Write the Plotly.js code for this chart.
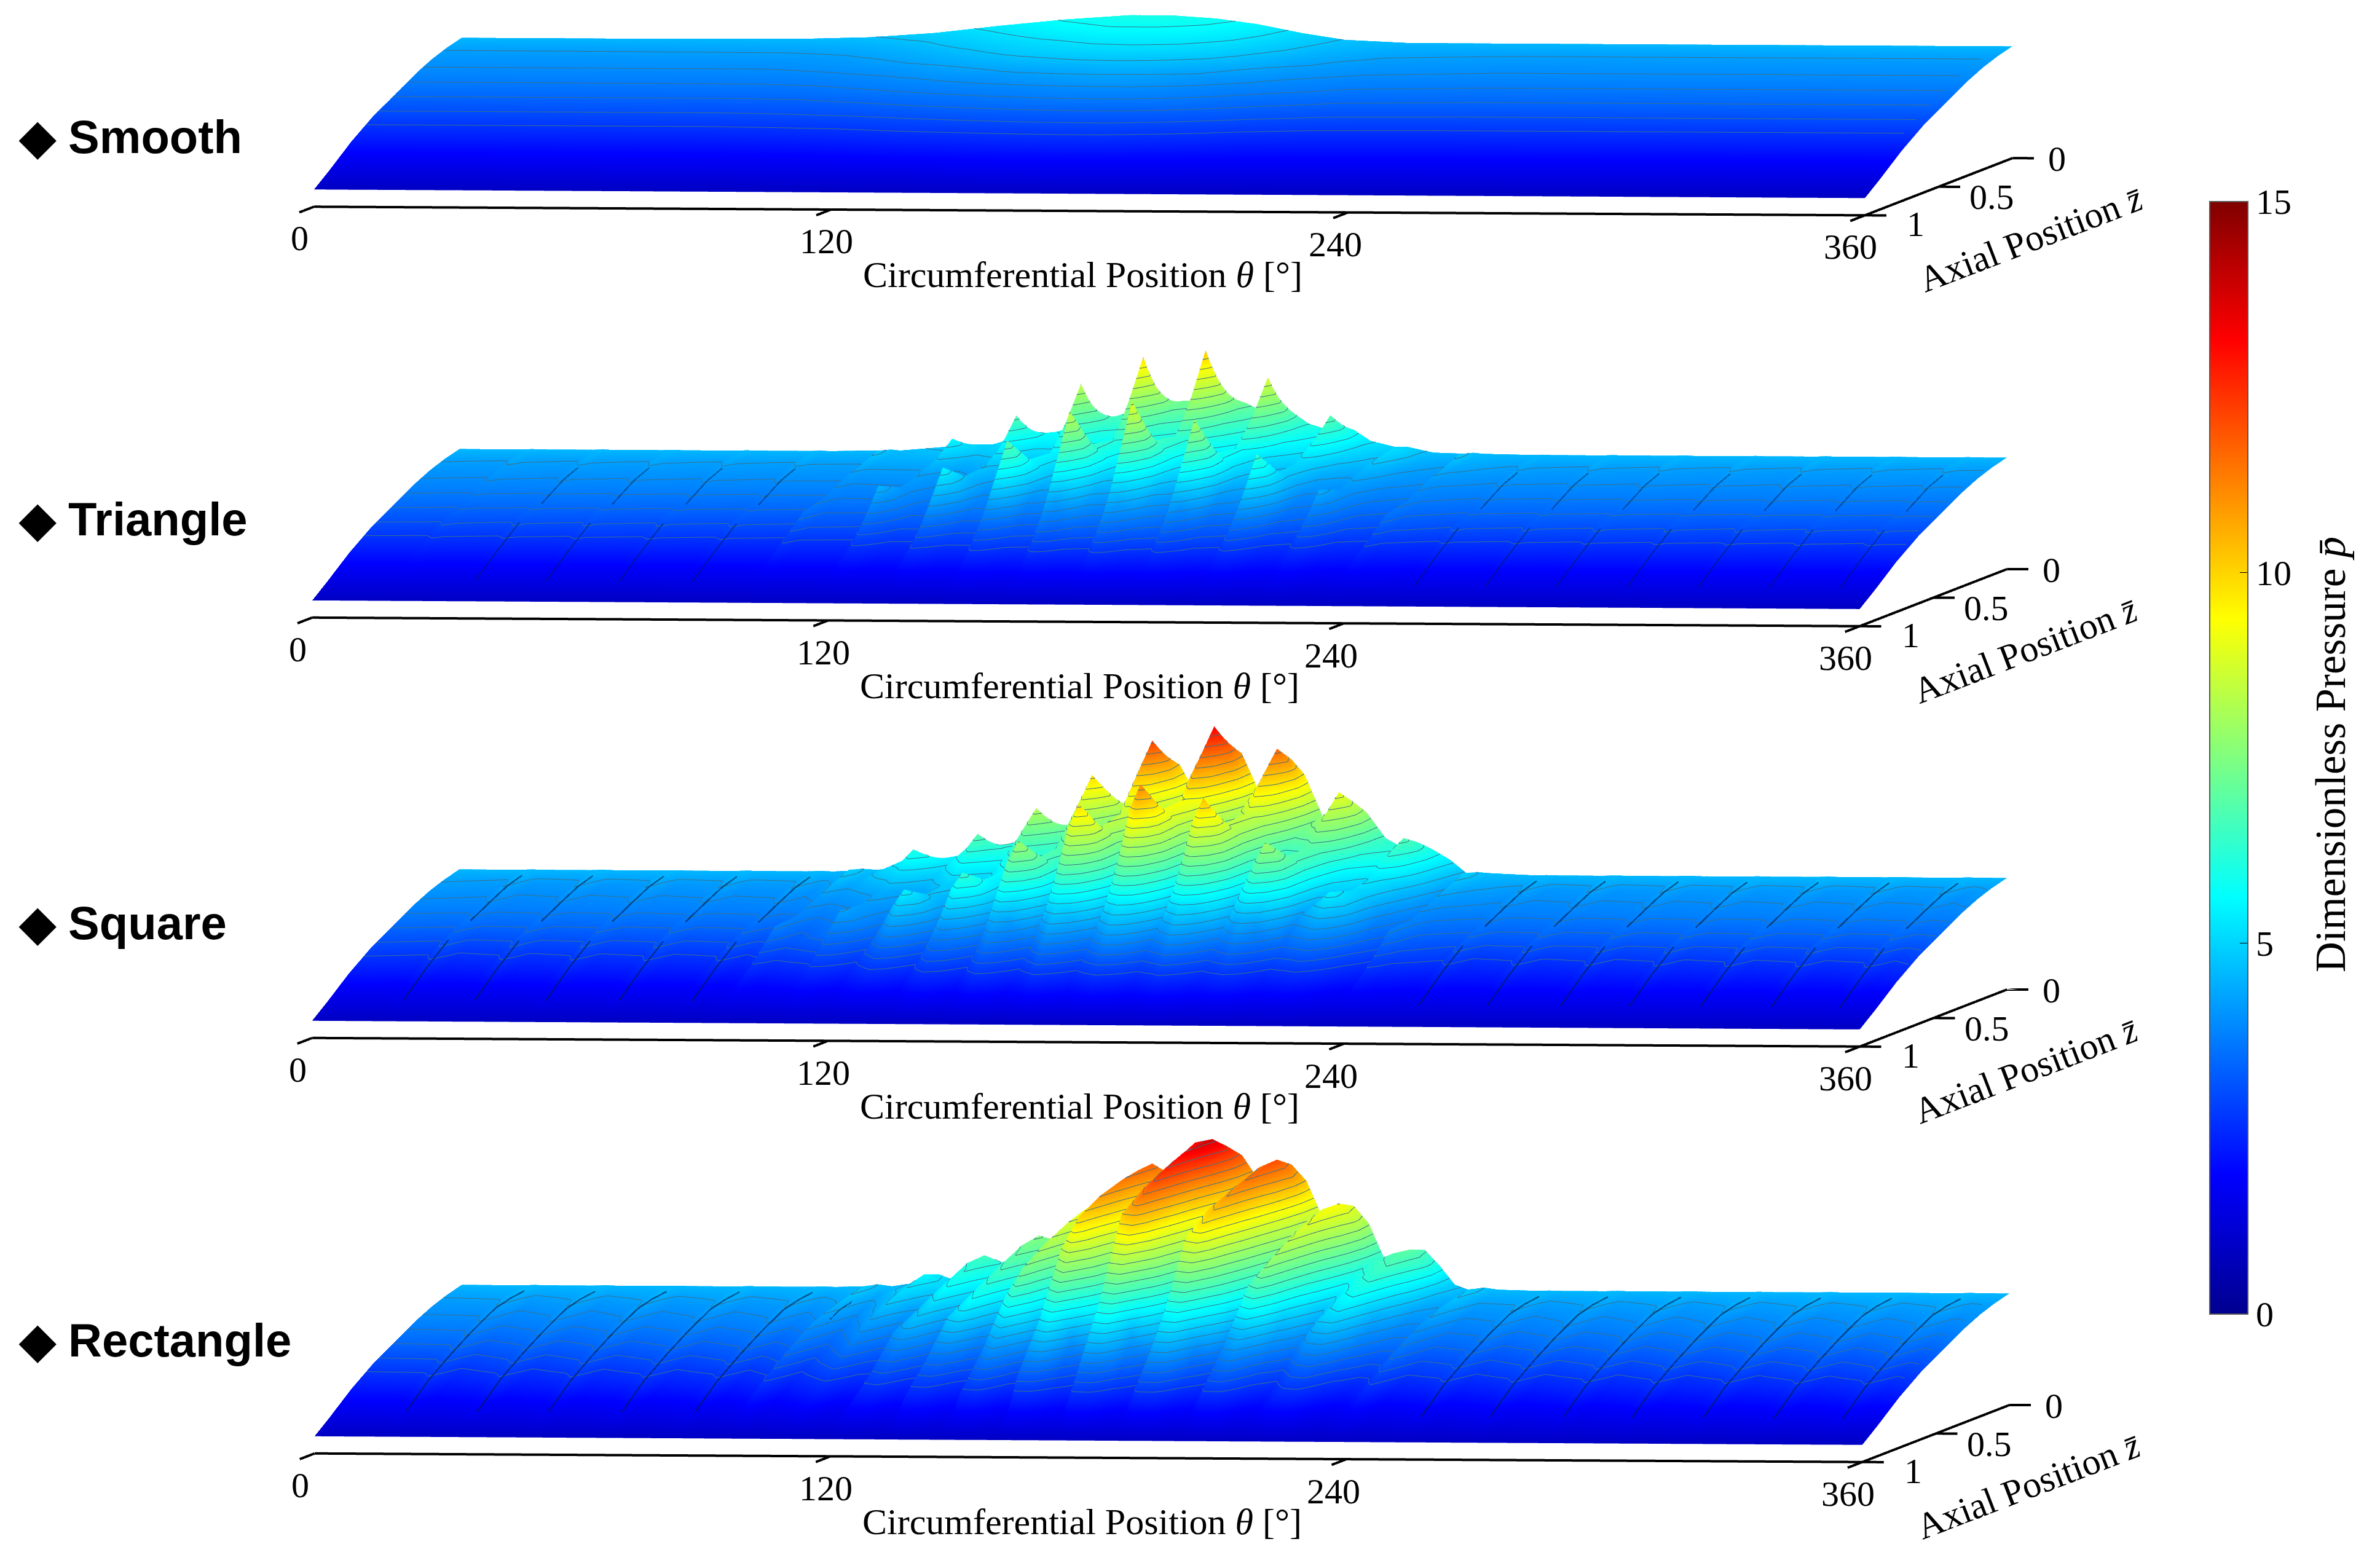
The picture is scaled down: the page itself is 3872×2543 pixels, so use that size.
<!DOCTYPE html>
<html><head><meta charset="utf-8">
<script src="https://cdn.plot.ly/plotly-3.0.1.min.js"></script>
<style>html,body{margin:0;padding:0;background:#fff;overflow:hidden}#g{width:3872px;height:2543px}</style>
</head><body><div id="g"></div>
<script>
// ---- values ----
const axialStations = [0,0.1,0.2,0.3,0.45,0.6,0.75,0.9,1];
const thetaTicks = [0,120,240,360];
const axialTicks = [0,0.5,1];
const colorTicks = [0,5,10,15];
const panelNames = ['Smooth','Triangle','Square','Rectangle'];
// pressure → drawn height in the picture (the drawing is not linear in the colour value)
const pressureStops = [0,0.9,2.2,2.9,3.45,3.9,4.1,4.3,4.6,6,8,10,12.5,13,15];
const heightStops  = [0,0.7,2.05,2.75,3.3,3.85,4.15,4.38,4.55,5.62,7.25,8.85,10.37,10.75,11.1];

const flat = [4.6,4.3,4.1,3.9,3.45,2.9,2.2,1.4,0.9];

// every column below = pressure at the axialStations for one theta
const thetaSmooth = [0,40,80,95,110,125,140,155,165,175,185,195,205,220,250,300,360];
const pressureSmooth = [
 flat,flat,
 [4.65,4.35,4.1,3.9,3.45,2.9,2.2,1.4,0.9],
 [4.75,4.45,4.2,4.0,3.5,2.95,2.25,1.4,0.9],
 [5.0,4.7,4.45,4.2,3.7,3.05,2.3,1.45,0.9],
 [5.4,5.1,4.8,4.5,3.95,3.25,2.45,1.5,0.9],
 [5.75,5.5,5.15,4.85,4.2,3.45,2.55,1.55,0.9],
 [6.0,5.75,5.4,5.1,4.4,3.6,2.65,1.65,0.9],
 [6.0,5.75,5.45,5.15,4.5,3.65,2.7,1.65,0.9],
 [5.85,5.65,5.4,5.1,4.45,3.65,2.7,1.65,0.9],
 [5.55,5.4,5.2,4.95,4.3,3.55,2.6,1.6,0.9],
 [5.1,5.0,4.85,4.6,4.05,3.35,2.5,1.55,0.9],
 [4.75,4.65,4.5,4.3,3.8,3.15,2.35,1.5,0.9],
 [4.6,4.4,4.2,4.0,3.55,2.95,2.25,1.4,0.9],
 flat,flat,flat];

// Triangle
const triLow = [4.6,4.25,4.05,3.85,3.4,2.85,2.15,1.4,0.9];
const triTop = [4.62,4.5,4.2,4.0,3.5,3.1,2.3,1.45,0.9];
const triOff = [4.6,4.3,4.15,3.9,3.45,2.95,2.2,1.4,0.9];
const triLow2 = [4.65,4.3,4.1,3.9,3.4,2.85,2.2,1.4,0.9];
const triTop2 = [4.7,4.9,4.5,4.2,3.8,3.6,2.6,1.5,0.9];
const triOff2 = [4.65,4.5,4.3,4.0,3.6,3.1,2.3,1.45,0.9];
const thetaTriangle = [0,14.5,17,19,31,33.5,35.5,47.5,50,52,64.5,67,69,81.5,84,86,98,100.5,102.5,
 115,118,120,124, 130,133,135,139, 145,148,150,154, 159.5,162.5,164.5,168.5, 174,177,179,183,
 188.5,191.5,193.5,197.5, 203,206,208,212, 217.5,220.5,222.5,226.5,
 233.5,236,238,249.5,252,254,266,268.5,270.5,282.5,285,287,299,301.5,303.5,315.5,318,320,332,334.5,336.5,348.5,351,353,360];
const pressureTriangle = [flat,
 triLow,triTop,triOff, triLow,triTop,triOff, triLow,triTop,triOff, triLow,triTop,triOff, triLow,triTop,triOff, triLow2,triTop2,triOff2,
 [4.9,4.6,4.3,4.1,3.6,3.0,2.3,1.4,0.9],[5.0,5.6,4.7,4.3,4.1,4.6,2.9,1.6,0.9],[5.0,5.2,4.6,4.2,4.0,4.2,2.8,1.6,0.9],[5.0,4.8,4.4,4.1,3.7,3.2,2.4,1.5,0.9],
 [5.4,5.0,4.6,4.3,3.8,3.2,2.4,1.5,0.9],[5.6,6.8,5.6,4.8,4.7,5.6,3.4,1.7,0.9],[5.6,6.2,5.4,4.7,4.5,5.0,3.2,1.7,0.9],[5.7,5.5,5.0,4.5,4.1,3.6,2.7,1.6,0.9],
 [6.1,5.5,5.0,4.6,4.2,3.6,2.7,1.6,0.9],[6.3,8.4,6.8,5.5,5.6,7.0,4.0,1.9,0.9],[6.3,7.5,6.4,5.3,5.3,6.2,3.8,1.9,0.9],[6.6,6.4,5.8,5.1,4.7,4.2,3.0,1.7,0.9],
 [7.0,6.2,5.6,5.0,4.6,4.0,2.9,1.7,0.9],[7.2,9.8,7.8,6.2,6.4,8.5,4.6,2.0,0.9],[7.2,8.6,7.4,6.0,6.0,7.4,4.3,2.0,0.9],[7.3,7.0,6.4,5.6,5.2,4.6,3.3,1.8,0.9],
 [7.3,6.6,5.9,5.2,4.8,4.2,3.1,1.8,0.9],[7.5,10.2,8.0,6.4,6.6,9.0,4.8,2.1,0.9],[7.5,9.0,7.6,6.2,6.2,7.8,4.5,2.1,0.9],[7.2,6.9,6.4,5.7,5.3,4.7,3.4,1.8,0.9],
 [6.6,6.2,5.7,5.2,4.8,4.2,3.1,1.8,0.9],[6.8,8.8,7.2,5.8,6.0,8.1,4.5,2.0,0.9],[6.8,7.8,6.8,5.6,5.6,7.0,4.1,1.9,0.9],[6.2,6.0,5.6,5.1,4.7,4.2,3.0,1.7,0.9],
 [5.8,5.5,5.2,4.8,4.3,3.8,2.8,1.6,0.9],[6.0,6.9,6.0,5.1,5.0,6.4,3.7,1.8,0.9],[5.9,6.3,5.7,5.0,4.8,5.6,3.4,1.8,0.9],[5.3,5.2,4.9,4.5,4.0,3.5,2.6,1.5,0.9],
 [5.0,4.8,4.6,4.3,3.8,3.2,2.4,1.5,0.9],[5.0,5.2,4.9,4.5,4.1,4.5,2.9,1.6,0.9],[4.9,5.0,4.7,4.4,4.0,4.1,2.8,1.6,0.9],[4.7,4.5,4.3,4.1,3.6,3.0,2.3,1.4,0.9],
 triLow2,triTop2,triOff2, triLow,triTop,triOff, triLow,triTop,triOff, triLow,triTop,triOff, triLow,triTop,triOff, triLow,triTop,triOff, triLow,triTop,triOff, triLow,triTop,triOff, flat];
const slashTriangle = [33.5,50,67,84,100.5,252,268.5,285,301.5,318,334.5,351];

// Square
const sqLow = [4.6,4.2,4.0,3.85,3.35,2.75,2.1,1.35,0.9];
const sqTop = [4.62,4.55,4.25,4.0,3.6,3.2,2.4,1.5,0.9];
const sqOff = [4.6,4.1,3.95,3.8,3.3,2.6,2.05,1.35,0.9];
const sqLow2 = [4.65,4.4,4.15,3.9,3.4,2.85,2.15,1.4,0.9];
const sqTop2 = [4.75,5.0,4.6,4.2,3.85,3.8,2.7,1.6,0.9];
const sqOff2 = [4.7,4.5,4.25,4.0,3.5,3.1,2.3,1.45,0.9];
const thetaSquare = [0,14,17,20,30.5,33.5,36.5,47,50,53,64,67,70,81,84,87,91.5,94,97,
 106.5,109,112,116.5, 121.5,124,127,131.5, 135,137.6,140.6,145, 148,150.6,153.6,158, 162,164.6,167.6,172,
 176.5,179,182,186.5, 191,193.6,196.6,201, 205.5,208,211,215.5, 220.5,223,226,230.5,
 234.5,237,240,250,253,256,266,269,272,283,286,289,299,302,305,315.5,318.5,321.5,332,335,338,348,351,354,360];
const pressureSquare = [flat,
 sqLow,sqTop,sqOff, sqLow,sqTop,sqOff, sqLow,sqTop,sqOff, sqLow,sqTop,sqOff, sqLow,sqTop,sqOff, sqLow2,sqTop2,sqOff2,
 [4.9,5.5,4.8,4.3,3.9,3.6,2.6,1.6,0.9],[5.3,6.1,5.1,4.5,4.2,4.3,3.0,1.8,0.9],[5.3,5.8,5.0,4.4,4.1,4.0,2.9,1.7,0.9],[5.5,5.2,4.7,4.2,3.8,3.2,2.4,1.5,0.9],
 [5.7,6.2,5.4,4.7,4.4,4.7,3.1,1.8,0.9],[6.0,6.9,5.8,5.0,4.8,5.5,3.5,2.0,0.9],[6.0,6.4,5.6,4.9,4.6,5.0,3.3,1.9,0.9],[6.4,6.0,5.4,4.7,4.2,3.6,2.6,1.6,0.9],
 [6.7,7.3,6.3,5.3,5.1,5.6,3.5,2.0,0.9],[7.0,8.2,6.9,5.7,5.6,6.4,4.0,2.3,0.9],[7.0,7.6,6.6,5.5,5.3,5.8,3.8,2.2,0.9],[7.2,6.9,6.2,5.3,4.7,4.0,2.9,1.7,0.9],
 [7.6,8.7,7.5,6.2,6.0,7.0,4.0,2.1,0.9],[8.2,9.9,8.4,6.9,6.8,8.0,4.6,2.6,0.9],[8.2,9.2,8.0,6.6,6.4,7.2,4.3,2.4,0.9],[8.0,7.7,7.0,5.9,5.2,4.5,3.2,1.8,0.9],
 [8.6,10.5,9.0,7.5,7.0,8.6,4.4,2.2,0.9],[10.2,12.2,10.4,8.6,8.3,9.9,5.2,2.8,0.9],[10.2,11.2,9.9,8.2,7.8,9.0,4.8,2.5,0.9],[8.4,8.1,7.5,6.5,5.7,4.9,3.5,1.9,0.9],
 [9.6,11.5,10.0,8.4,7.9,9.7,4.8,2.4,0.9],[11.5,13.2,11.4,9.3,9.2,11.2,5.6,2.8,0.9],[11.0,12.0,10.6,9.0,8.6,10.0,5.4,2.6,0.9],[8.6,8.4,7.8,6.8,5.9,5.0,3.6,2.0,0.9],
 [9.2,10.2,9.0,7.7,7.4,9.0,4.6,2.3,0.9],[10.6,11.7,10.2,8.6,8.5,10.3,5.4,2.8,0.9],[9.7,10.7,9.6,8.2,8.0,9.2,5.0,2.5,0.9],[7.5,7.4,7.0,6.3,5.6,4.8,3.4,1.9,0.9],
 [7.4,8.1,7.4,6.4,6.2,7.0,4.2,2.2,0.9],[8.3,9.1,8.1,6.9,6.9,8.0,4.6,2.5,0.9],[7.8,8.3,7.6,6.6,6.5,7.2,4.2,2.3,0.9],[6.5,6.4,6.1,5.5,4.8,4.1,3.0,1.7,0.9],
 [5.9,6.2,5.8,5.1,4.8,5.0,3.3,1.9,0.9],[6.3,6.8,6.2,5.4,5.1,5.5,3.6,2.0,0.9],[6.0,6.3,5.9,5.2,4.9,5.0,3.3,1.8,0.9],[5.4,5.2,5.0,4.6,4.0,3.4,2.5,1.5,0.9],
 sqLow2,sqTop2,sqOff2, sqLow,sqTop,sqOff, sqLow,sqTop,sqOff, sqLow,sqTop,sqOff, sqLow,sqTop,sqOff, sqLow,sqTop,sqOff, sqLow,sqTop,sqOff, sqLow,sqTop,sqOff, flat];
const slashSquare = [17,33.5,50,67,84,94,253,269,286,302,318.5,335,351];

// Rectangle
const reMid = [4.6,4.4,4.15,3.95,3.5,2.95,2.25,1.45,0.9];
const reTop = [4.62,4.55,4.4,4.2,3.8,3.25,2.55,1.65,0.9];
const reOff = [4.6,4.2,3.95,3.7,3.2,2.6,2.0,1.3,0.9];
const reMid2 = [4.65,4.5,4.25,4.05,3.55,3.0,2.3,1.5,0.9];
const reTop2 = [4.75,4.95,4.75,4.5,4.1,3.6,2.85,1.9,0.9];
const reOff2 = [4.65,4.35,4.05,3.8,3.3,2.7,2.05,1.35,0.9];
const thetaRectangle = [0,14,17,20,30.5,33.5,36.5,47,50,53,64,67,70,81,84,87,94,97,100,
 107,111,114.5,118, 121,125,128.5,132, 133.7,137.7,141.2,144.7, 147,151,154.5,158, 160,164,167.5,171,
 174,178,181.5,185, 189,193,196.5,200, 203.5,207.5,211,214.5, 220,224,227.5,231,
 234,238,241,250,253,256,266,269,272,283,286,289,299,302,305,315.5,318.5,321.5,332,335,338,348,351,354,360];
const pressureRectangle = [flat,
 reMid,reTop,reOff, reMid,reTop,reOff, reMid,reTop,reOff, reMid,reTop,reOff, reMid,reTop,reOff, reMid2,reTop2,reOff2,
 [4.9,5.0,4.7,4.4,3.9,3.3,2.5,1.6,0.9],[5.3,5.6,5.3,5.0,4.4,3.7,2.8,1.9,0.9],[5.0,5.2,4.8,4.3,3.6,2.9,2.2,1.4,0.9],[5.2,4.9,4.5,4.1,3.5,2.8,2.1,1.4,0.9],
 [5.8,6.2,5.8,5.4,4.7,4.1,3.0,2.0,0.9],[6.0,6.6,6.3,6.0,5.2,4.6,3.3,2.1,0.9],[5.8,6.2,5.7,5.1,4.2,3.4,2.5,1.6,0.9],[6.0,5.7,5.2,4.7,3.9,3.1,2.3,1.5,0.9],
 [6.7,7.1,6.7,6.3,5.6,4.9,3.5,2.3,0.9],[7.1,7.6,7.3,6.9,6.2,5.5,3.7,2.4,0.9],[6.9,7.2,6.6,5.9,4.9,4.0,2.8,1.8,0.9],[7.0,6.8,6.2,5.5,4.5,3.6,2.5,1.6,0.9],
 [8.0,8.7,8.3,7.9,7.0,6.0,3.9,2.6,0.9],[8.5,9.3,9.1,8.8,8.2,7.4,4.8,2.9,0.9],[8.4,8.9,8.2,7.3,6.1,4.9,3.0,1.9,0.9],[8.8,8.5,7.7,6.7,5.4,4.2,2.8,1.7,0.9],
 [9.8,10.7,10.4,10.0,9.4,8.4,5.2,3.2,0.9],[10.7,11.7,11.6,11.4,10.9,10.0,6.4,3.3,0.9],[10.5,11.0,10.6,10.0,9.0,7.6,4.2,2.1,0.9],[10.1,9.9,9.1,8.0,6.4,4.9,3.0,1.8,0.9],
 [11.8,13.0,12.6,12.2,11.4,10.2,6.2,3.4,0.9],[12.5,13.8,13.6,13.2,12.4,11.2,7.0,3.7,0.9],[11.9,12.6,12.0,11.0,9.8,8.2,4.4,2.2,0.9],[10.4,10.2,9.6,8.6,6.8,5.2,3.2,1.8,0.9],
 [11.0,11.5,11.1,10.7,10.0,9.0,5.6,3.3,0.9],[11.3,12.0,11.8,11.5,10.8,9.8,6.2,3.4,0.9],[10.2,10.9,10.4,9.6,8.4,6.8,3.9,2.0,0.9],[8.4,8.3,7.8,7.0,5.7,4.5,2.8,1.7,0.9],
 [8.6,9.0,8.7,8.3,7.5,6.6,4.2,2.8,0.9],[8.9,9.3,9.2,8.9,8.4,7.6,4.9,3.0,0.9],[8.0,8.6,7.9,7.0,5.9,4.7,3.0,1.9,0.9],[6.3,6.3,6.0,5.4,4.5,3.6,2.5,1.6,0.9],
 [6.5,6.8,6.5,6.2,5.6,4.9,3.4,2.3,0.9],[6.7,7.0,6.8,6.5,5.9,5.2,3.6,2.4,0.9],[5.9,6.4,5.9,5.2,4.4,3.6,2.5,1.6,0.9],[4.9,4.8,4.5,4.2,3.6,2.9,2.2,1.4,0.9],
 reMid2,reTop2,reOff2, reMid,reTop,reOff, reMid,reTop,reOff, reMid,reTop,reOff, reMid,reTop,reOff, reMid,reTop,reOff, reMid,reTop,reOff, reMid,reTop,reOff, flat];
const slashRectangle = [17,33.5,50,67,84,97,253,269,286,302,318.5,335,351];

// ---- drawing ----
const W=3872,H=2543;
const panels=[
 {theta:thetaSmooth,p:pressureSmooth,cx:512,cy:336,zmax:5.8,slash:[],top:flat,rows:[]},
 {theta:thetaTriangle,p:pressureTriangle,cx:506,cy:1005,zmax:9.3,slash:slashTriangle,top:triTop,rows:[[2,3,4],[5,6,7]],op:0.4},
 {theta:thetaSquare,p:pressureSquare,cx:506,cy:1689,zmax:11.2,slash:slashSquare,top:sqTop,rows:[[1,2,3,4],[5,6,7]],op:0.55},
 {theta:thetaRectangle,p:pressureRectangle,cx:510,cy:2365,zmax:11.4,slash:slashRectangle,top:reTop,rows:[[1,2,3,4,5,6,7]],op:0.55}];
const labelY=[222,844,1501,2180];
const Lx=2538,Ly=2017,pxPerZ=40;
const xStub=5, yStub=0.1;                  // tick lengths in axis units
const az=6.83*Math.PI/180,el=2.66*Math.PI/180;
const serif='Liberation Serif, Times New Roman, serif';
const jet=[[0,'#00008f'],[0.125,'#0000ff'],[0.375,'#00ffff'],[0.625,'#ffff00'],[0.875,'#ff0000'],[1,'#800000']];

function heightOf(p){
  for(let i=1;i<pressureStops.length;i++) if(p<=pressureStops[i]){
    const t=(p-pressureStops[i-1])/(pressureStops[i]-pressureStops[i-1]);
    return heightStops[i-1]+t*(heightStops[i]-heightStops[i-1]);
  }
  return heightStops[heightStops.length-1];
}
const yCoord=axialStations.map(z=>1-z).reverse();
const traces=[],layout={width:W,height:H,margin:{l:0,r:0,t:0,b:0},paper_bgcolor:'#fff',showlegend:false,hovermode:false,annotations:[]};
panels.forEach((P,k)=>{
  const name=k===0?'scene':'scene'+(k+1);
  const L=P.zmax*pxPerZ;
  const xSpan=360+xStub, ySpan=1+yStub;
  const cxs=P.cx+(xSpan/2)*7+(ySpan/2-yStub)*240;
  const cys=P.cy+(xSpan/2)*0.039-(ySpan/2-yStub)*93-L/2;
  const half=k===0?cys:P.cy+40-cys;
  const hw=1500, D=2*half;
  const nR=axialStations.length;
  const color=[],z=[];
  for(let r=nR-1;r>=0;r--){color.push(P.p.map(c=>c[r]));z.push(P.p.map(c=>heightOf(c[r])));}
  traces.push({type:'surface',scene:name,x:P.theta,y:yCoord,z:z,surfacecolor:color,cmin:0,cmax:15,colorscale:jet,showscale:k===0,
    lighting:{ambient:1,diffuse:0,specular:0,roughness:1,fresnel:0},
    contours:{z:{show:true,start:2.52,end:12,size:0.36,color:'#3a7088',width:1}},
    hoverinfo:'skip',
    colorbar:{x:3595/W,xanchor:'left',xpad:0,y:1-2138/H,yanchor:'bottom',ypad:0,len:(2138-328)/H,lenmode:'fraction',thickness:62,thicknessmode:'pixels',
      tickvals:colorTicks,ticks:'inside',ticklen:14,tickwidth:1,tickcolor:'#000',outlinecolor:'#555',outlinewidth:2,
      tickfont:{family:serif,size:58,color:'#000'}}});
  // dark groove marks on the flat flanks
  if(P.slash.length){
    const sx=[],sy=[],sz=[];
    P.slash.forEach(t=>P.rows.forEach(rs=>{
      rs.forEach(r=>{sx.push(t+1);sy.push(1-axialStations[r]);sz.push(heightOf(P.top[r])+0.03);});
      sx.push(null);sy.push(null);sz.push(null);
    }));
    traces.push({type:'scatter3d',scene:name,mode:'lines',x:sx,y:sy,z:sz,line:{color:'#001a44',width:5},opacity:P.op,hoverinfo:'skip',showlegend:false,connectgaps:false});
  }
  // axes: lines and ticks drawn from the tick arrays
  const lx=[0,360,null,360,360],ly=[0,0,null,0,1],lz=[0,0,null,0,0];
  thetaTicks.forEach(t=>{lx.push(null,t,t);ly.push(null,0,-yStub);lz.push(null,0,0);});
  axialTicks.forEach(a=>{lx.push(null,360,360+xStub);ly.push(null,1-a,1-a);lz.push(null,0,0);});
  traces.push({type:'scatter3d',scene:name,mode:'lines',x:lx,y:ly,z:lz,line:{color:'#000',width:8},hoverinfo:'skip',showlegend:false,connectgaps:false});
  const tickFont={family:serif,size:58,color:'#000'};
  const titleFont={family:serif,size:60,color:'#000'};
  const ann=[];
  thetaTicks.forEach((t,i)=>ann.push({x:t,y:0,z:0,text:String(t),showarrow:false,xshift:[-23,-7,-20,-23][i],yshift:-52,font:tickFont,xanchor:'center',yanchor:'middle'}));
  axialTicks.forEach((a,i)=>ann.push({x:360,y:1-a,z:0,text:String(a),showarrow:false,xshift:[73,87,83][i],yshift:[-2,-17,-15][i],font:tickFont,xanchor:'center',yanchor:'middle'}));
  ann.push({x:180,y:0,z:0,text:'Circumferential Position <i>\u03b8</i> [\u00b0]',showarrow:false,xshift:-10,yshift:-104,font:titleFont,xanchor:'center',yanchor:'middle'});
  ann.push({x:360,y:0.5,z:0,text:'Axial Position <i>z\u0304</i>',showarrow:false,xshift:150,yshift:-86,textangle:-21,font:titleFont,xanchor:'center',yanchor:'middle'});
  const R=30;
  layout[name]={
    domain:{x:[(cxs-hw)/W,(cxs+hw)/W],y:[1-(cys+half)/H,1-(cys-half)/H]},
    bgcolor:'rgba(0,0,0,0)',
    aspectmode:'manual',
    aspectratio:{x:2*Lx*(xSpan/360)/D,y:2*Ly*ySpan/D,z:2*L/D},
    camera:{projection:{type:'orthographic'},up:{x:0,y:0,z:1},center:{x:0,y:0,z:0},
      eye:{x:R*Math.sin(az)*Math.cos(el),y:-R*Math.cos(az)*Math.cos(el),z:R*Math.sin(el)}},
    xaxis:{visible:false,range:[0,xSpan]},
    yaxis:{visible:false,range:[-yStub,1]},
    zaxis:{visible:false,range:[0,P.zmax]},
    annotations:ann};
  layout.annotations.push({xref:'paper',yref:'paper',x:28/W,y:1-labelY[k]/H,xanchor:'left',yanchor:'middle',showarrow:false,
    text:'<b>\u25c6 '+panelNames[k]+'</b>',font:{family:'Liberation Sans, Arial, sans-serif',size:76,color:'#000'}});
});
layout.annotations.push({xref:'paper',yref:'paper',x:3792/W,y:1-1228/H,xanchor:'center',yanchor:'middle',showarrow:false,textangle:-90,
  text:'Dimensionless Pressure <i>p\u0304</i>',font:{family:serif,size:69,color:'#000'}});
Plotly.newPlot('g',traces,layout,{displayModeBar:false,plotGlPixelRatio:1});
</script></body></html>
